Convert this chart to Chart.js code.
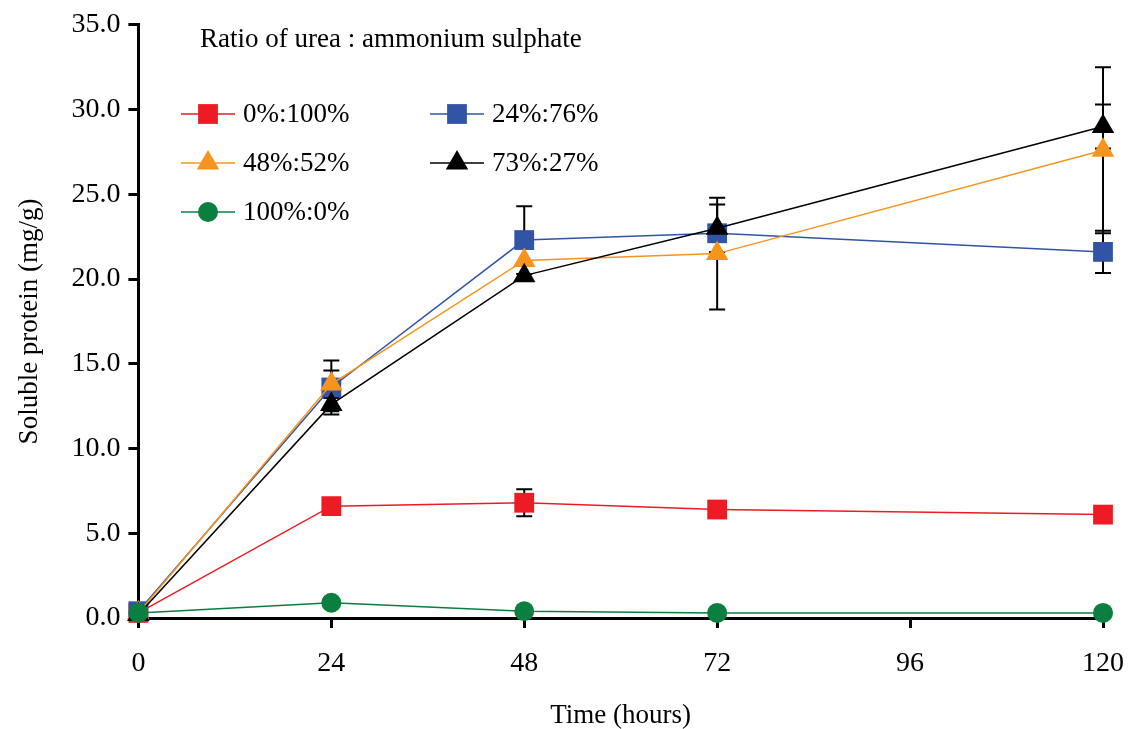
<!DOCTYPE html>
<html>
<head>
<meta charset="utf-8">
<script src="https://cdn.jsdelivr.net/npm/chart.js@4"></script>
<style>
  body { margin: 0; background: #fff; }
  #wrap { width: 1128px; height: 729px; }
</style>
</head>
<body>
<div id="wrap"><canvas id="chart" width="1128" height="729"></canvas></div>
<script>
const hours = [0, 24, 48, 72, 120];
const xTicks = [0, 24, 48, 72, 96, 120];

const seriesNames = ['0%:100%', '24%:76%', '48%:52%', '73%:27%', '100%:0%'];

const red = [0.3, 6.6, 6.8, 6.4, 6.1];
const blue = [0.4, 13.6, 22.3, 22.7, 21.6];
const orange = [0.3, 13.8, 21.1, 21.5, 27.6];
const black = [0.2, 12.6, 20.2, 23.0, 29.0];
const green = [0.3, 0.9, 0.4, 0.3, 0.3];

// standard errors (0 = none visible)
const redErr = [0, 0, 0.8, 0, 0];
const blueErr = [0, 1.6, 2.0, 0, 1.25];
const orangeErr = [0, 0.8, 0, 3.3, 4.9];
const blackErr = [0, 0.4, 0, 1.4, 1.3];
const greenErr = [0, 0, 0, 0, 0];

const serif = "'Liberation Serif', 'Times New Roman', serif";

function pts(vals, errs) {
  return vals.map((v, i) => ({ x: hours[i], y: v, err: errs[i] }));
}

function ds(label, vals, errs, color, style, radius, order) {
  return {
    label: label,
    data: pts(vals, errs),
    borderColor: color,
    backgroundColor: color,
    borderWidth: 1.5,
    pointStyle: style,
    pointRadius: radius,
    pointHoverRadius: radius,
    pointBorderWidth: 0,
    clip: false,
    order: order
  };
}

const errorBars = {
  id: 'errorBars',
  beforeDatasetsDraw(chart) {
    const ctx = chart.ctx;
    const xs = chart.scales.x, ys = chart.scales.y;
    ctx.save();
    ctx.strokeStyle = '#000';
    ctx.lineWidth = 2;
    chart.data.datasets.forEach(d => {
      d.data.forEach(p => {
        if (!p.err) return;
        const x = xs.getPixelForValue(p.x);
        const yt = ys.getPixelForValue(p.y + p.err);
        const yb = ys.getPixelForValue(p.y - p.err);
        ctx.beginPath();
        ctx.moveTo(x, yt); ctx.lineTo(x, yb);
        ctx.moveTo(x - 8, yt); ctx.lineTo(x + 8, yt);
        ctx.moveTo(x - 8, yb); ctx.lineTo(x + 8, yb);
        ctx.stroke();
      });
    });
    ctx.restore();
  }
};

const legendBox = {
  id: 'legendBox',
  afterDraw(chart) {
    const ctx = chart.ctx;
    ctx.save();
    ctx.fillStyle = '#000';
    ctx.font = '27px ' + serif;
    ctx.textBaseline = 'middle';
    ctx.textAlign = 'left';
    ctx.fillText('Ratio of urea : ammonium sulphate', 200, 40);
    const spots = [[181, 114], [430, 114], [181, 163], [430, 163], [181, 212]];
    chart.data.datasets.forEach((d, i) => {
      const [x, y] = spots[i];
      ctx.strokeStyle = d.borderColor;
      ctx.lineWidth = 1.5;
      ctx.beginPath();
      ctx.moveTo(x, y); ctx.lineTo(x + 54, y);
      ctx.stroke();
      ctx.fillStyle = d.backgroundColor;
      Chart.helpers.drawPoint(ctx, { pointStyle: d.pointStyle, radius: d.pointRadius, borderWidth: 0 }, x + 27, y);
      ctx.fillStyle = '#000';
      ctx.fillText(d.label, x + 62, y + 1);
    });
    ctx.restore();
  }
};

new Chart(document.getElementById('chart'), {
  type: 'line',
  data: {
    datasets: [
      ds(seriesNames[0], red, redErr, '#ED1C24', 'rect', 14, 4),
      ds(seriesNames[1], blue, blueErr, '#3155A4', 'rect', 14, 3),
      ds(seriesNames[2], orange, orangeErr, '#F7941D', 'triangle', 13, 2),
      ds(seriesNames[3], black, blackErr, '#000000', 'triangle', 13, 1),
      ds(seriesNames[4], green, greenErr, '#0B7F3F', 'circle', 10, 0)
    ]
  },
  options: {
    responsive: false,
    animation: false,
    layout: { padding: { left: 14, right: 0, top: 19, bottom: 0 } },
    plugins: { legend: { display: false }, tooltip: { enabled: false } },
    scales: {
      x: {
        type: 'linear',
        min: 0, max: 120,
        afterBuildTicks: axis => { axis.ticks = xTicks.map(v => ({ value: v })); },
        afterFit: axis => { axis.paddingRight = 25; },
        grid: { drawOnChartArea: false, tickLength: 10, tickWidth: 3, tickColor: '#000' },
        border: { color: '#000', width: 3 },
        ticks: { color: '#000', font: { family: serif, size: 28, lineHeight: 1 }, padding: 22, maxRotation: 0 },
        title: { display: true, text: 'Time (hours)', color: '#000', font: { family: serif, size: 27, lineHeight: 1 }, padding: { top: 2, bottom: 0 } }
      },
      y: {
        min: 0, max: 35,
        ticks: { stepSize: 5, color: '#000', font: { family: serif, size: 28 }, padding: 8,
                 callback: v => Number(v).toFixed(1) },
        grid: { drawOnChartArea: false, tickLength: 10, tickWidth: 3, tickColor: '#000' },
        border: { color: '#000', width: 3 },
        title: { display: true, text: 'Soluble protein (mg/g)', color: '#000', font: { family: serif, size: 27 }, padding: { top: 0, bottom: 17 } }
      }
    }
  },
  plugins: [errorBars, legendBox]
});
</script>
</body>
</html>
